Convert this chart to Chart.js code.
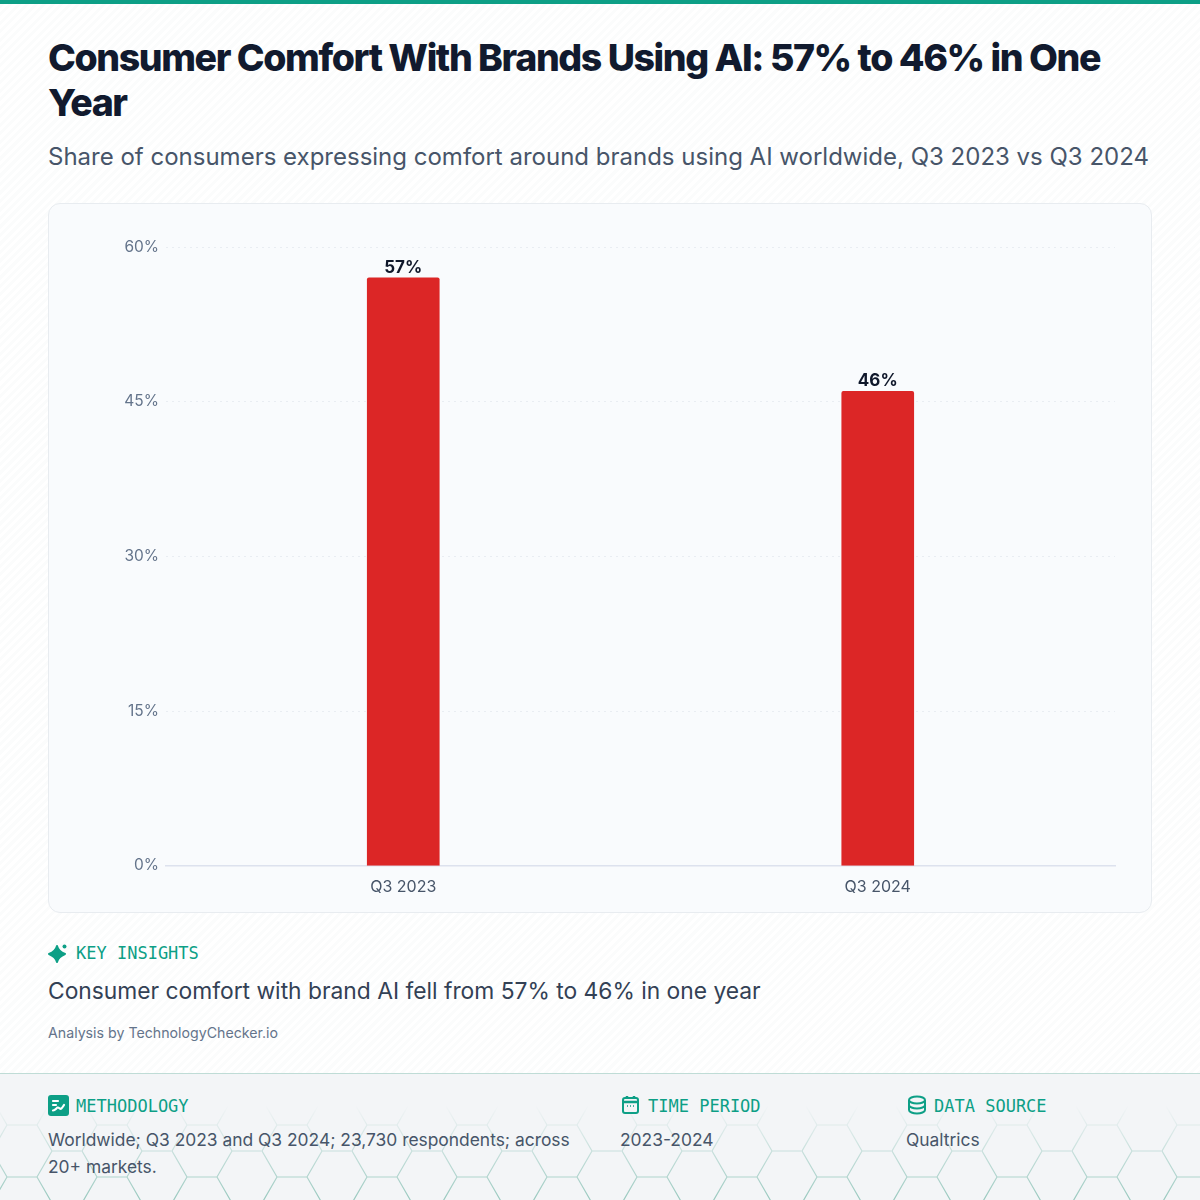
<!DOCTYPE html>
<html lang="en">
<head>
<meta charset="utf-8">
<title>Consumer Comfort With Brands Using AI</title>
<script src="https://cdn.jsdelivr.net/npm/chart.js@4"></script>
<style>
    * { box-sizing: border-box; margin: 0; padding: 0; }
    html, body { width: 1200px; height: 1200px; overflow: hidden; }
    body {
        position: relative;
        font-family: Inter, sans-serif;
        background: #fff repeating-linear-gradient(135deg, #fff 0 3px, #fbfcfc 3px 6px);
    }
    .top-bar { position: absolute; left: 0; top: 0; width: 1200px; height: 4px; background: #0d9f86; }
    h1 {
        position: absolute; left: 48px; top: 35px; width: 1104px;
        font-size: 37.5px; line-height: 45px; font-weight: 800; letter-spacing: -1.41px; color: #111a2e;
    }
    .subtitle {
        position: absolute; left: 48px; top: 141px; white-space: nowrap;
        font-size: 24px; line-height: 32px; color: #475569;
    }
    .card {
        position: absolute; left: 48px; top: 203px; width: 1104px; height: 710px;
        background: #f9fbfd; border: 1px solid #e8ecf0; border-radius: 12px;
    }
    #grafico { position: absolute; left: 0; top: 0; }
    .label {
        position: absolute; white-space: nowrap;
        font-family: "DejaVu Sans Mono", monospace; font-size: 17px; line-height: 24px; color: #0d9f86;
    }
    .label svg { position: absolute; top: 2px; }
    .insight { position: absolute; left: 48px; top: 975px; font-size: 22.8px; line-height: 32px; color: #334155; white-space: nowrap; }
    .credit { position: absolute; left: 48px; top: 1023px; font-size: 14.2px; line-height: 20px; color: #64748b; white-space: nowrap; }
    footer {
        position: absolute; left: 0; top: 1073px; width: 1200px; height: 127px;
        background: #f3f5f7; border-top: 1px solid #bfdcd6;
    }
    /* hexagon tiles, fading out toward the top of the footer */
    .hex {
        position: absolute; inset: 0;
        background-image: url("data:image/svg+xml,%3Csvg xmlns='http://www.w3.org/2000/svg' width='90' height='52'%3E%3Cpath d='M0 0L15 26H45L60 0H90M15 26L0 52M45 26L60 52M60 52H90' fill='none' stroke='%2399c9bf' stroke-width='1.2'/%3E%3C/svg%3E");
        background-position: 82px 25px;
        -webkit-mask-image: linear-gradient(to bottom, transparent 25%, #000 100%);
        mask-image: linear-gradient(to bottom, transparent 25%, #000 100%);
    }
    .note { position: absolute; font-size: 17.4px; line-height: 27px; color: #475569; }
</style>
</head>
<body>
<div class="top-bar"></div>
<h1>Consumer Comfort With Brands Using AI: 57% to 46% in One Year</h1>
<div class="subtitle">Share of consumers expressing comfort around brands using AI worldwide, Q3 2023 vs Q3 2024</div>

<div class="card"><canvas id="grafico" width="1102" height="708"></canvas></div>

<div class="label" style="left:76px;top:941px">KEY INSIGHTS
    <svg style="left:-28px" width="20" height="20" viewBox="0 0 20 20" fill="#0d9f86"><path d="M9 3C10 7 12 9 17 11C12 13 10 15 9 19C8 15 6 13 1 11C6 9 8 7 9 3Z" stroke="#0d9f86" stroke-width="2" stroke-linejoin="round"/><circle cx="16.500" cy="3.500" r="2"/></svg>
</div>
<div class="insight">Consumer comfort with brand AI fell from 57% to 46% in one year</div>
<div class="credit">Analysis by TechnologyChecker.io</div>

<footer>
    <div class="hex"></div>
</footer>
<div class="label" style="left:76px;top:1094px">METHODOLOGY
    <svg style="left:-28px;top:1px" width="21" height="21" viewBox="0 0 21 21"><rect width="21" height="21" rx="3" fill="#0d9f86"/><path d="M5 6H10M5 10H8M5 15.500C8 15.500 9 11 11 13C13 15 14 13 16 10" fill="none" stroke="#fff" stroke-width="2.200" stroke-linecap="round"/></svg>
</div>
<div class="note" style="left:48px;top:1126px;width:540px">Worldwide; Q3 2023 and Q3 2024; 23,730 respondents; across 20+ markets.</div>
<div class="label" style="left:648px;top:1094px">TIME PERIOD
    <svg style="left:-27px;top:1px" width="20" height="20" viewBox="0 0 20 20" fill="none" stroke="#0d9f86" stroke-width="2"><rect x="2" y="3" width="15" height="15" rx="2"/><path d="M2 7H17M6 1V4M13 1V4" stroke-width="2.500"/><path d="M6 11H7M9 11H10M12 11H13" stroke-width="1.500"/></svg>
</div>
<div class="note" style="left:620px;top:1126px">2023-2024</div>
<div class="label" style="left:934px;top:1094px">DATA SOURCE
    <svg style="left:-27px;top:1px" width="20" height="20" viewBox="0 0 20 20" fill="none" stroke="#0d9f86" stroke-width="2"><ellipse cx="10" cy="5" rx="8" ry="3.500"/><path d="M2 5V15C2 17 6 18.500 10 18.500C14 18.500 18 17 18 15V5M2 10C2 12 6 13.500 10 13.500C14 13.500 18 12 18 10"/></svg>
</div>
<div class="note" style="left:906px;top:1126px">Qualtrics</div>

<script>
const categorias = ["Q3 2023", "Q3 2024"];
const comodidad = [57, 46];
const ticksEjeY = [0, 15, 30, 45, 60];

// Porcentaje encima de cada barra
const etiquetasValor = {
    id: "etiquetasValor",
    afterDatasetsDraw(chart) {
        const ctx = chart.ctx;
        ctx.save();
        ctx.font = "700 17px Inter";
        ctx.fillStyle = "#0f172a";
        ctx.textAlign = "center";
        ctx.textBaseline = "bottom";
        chart.getDatasetMeta(0).data.forEach((barra, i) => {
            ctx.fillText(`${comodidad[i]}%`, barra.x, barra.y - 2);
        });
        ctx.restore();
    }
};

new Chart(document.getElementById("grafico"), {
    type: "bar",
    data: {
        labels: categorias,
        datasets: [{
            data: comodidad,
            backgroundColor: "#dc2626",
            barThickness: 72,
            borderRadius: {topLeft: 2, topRight: 2}
        }]
    },
    options: {
        responsive: false,
        animation: false,
        layout: {padding: {top: 43, right: 36, bottom: 11, left: 0}},
        plugins: {legend: {display: false}, tooltip: {enabled: false}},
        scales: {
            x: {
                grid: {display: false},
                border: {color: "#dde2ee", width: 1.5},
                ticks: {color: "#475569", font: {family: "Inter", size: 16}, padding: 4}
            },
            y: {
                min: 0,
                max: 60,
                afterBuildTicks: axis => { axis.ticks = ticksEjeY.map(value => ({value})); },
                afterFit: axis => { axis.width = 117; },
                grid: {color: "#e9edf2", drawTicks: false},
                border: {display: false, dash: [2, 4]},
                ticks: {
                    color: "#64748b",
                    font: {family: "Inter", size: 15.5},
                    padding: 7,
                    callback: v => `${v}%`
                }
            }
        }
    },
    plugins: [etiquetasValor]
});
</script>
</body>
</html>
